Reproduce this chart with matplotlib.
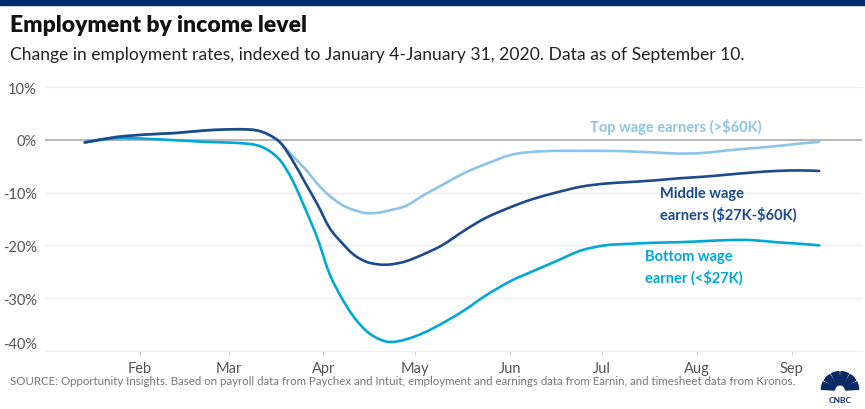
import numpy as np
import pandas as pd
import matplotlib
matplotlib.use("Agg")
import matplotlib.pyplot as plt
import matplotlib.dates as mdates
from matplotlib.patches import Rectangle, Wedge, PathPatch
from matplotlib.path import Path

plt.rcParams['font.family'] = ['Lato', 'DejaVu Sans']

# data (change vs Jan 2020, %)
dates = pd.to_datetime([
    "2020-01-14", "2020-01-24", "2020-02-03", "2020-02-13", "2020-02-23",
    "2020-03-04", "2020-03-10", "2020-03-14", "2020-03-18", "2020-03-22",
    "2020-03-26", "2020-03-30", "2020-04-03", "2020-04-07", "2020-04-11",
    "2020-04-15", "2020-04-19", "2020-04-23", "2020-04-28", "2020-05-04",
    "2020-05-10", "2020-05-17", "2020-05-24", "2020-06-01", "2020-06-08",
    "2020-06-16", "2020-06-24", "2020-07-02", "2020-07-10", "2020-07-18",
    "2020-07-26", "2020-08-03", "2020-08-11", "2020-08-19", "2020-08-27",
    "2020-09-04", "2020-09-10"])

top = [-0.5, 0.5, 1.0, 1.3, 1.8, 2.0, 1.8, 1.0, -0.6, -3.1,
       -5.5, -8.3, -10.6, -12.3, -13.3, -13.9, -13.8, -13.3, -12.5, -10.4,
       -8.5, -6.3, -4.6, -2.9, -2.3, -2.1, -2.1, -2.1, -2.2, -2.4,
       -2.6, -2.5, -2.0, -1.6, -1.2, -0.7, -0.4]

middle = [-0.5, 0.5, 1.0, 1.3, 1.8, 2.0, 1.8, 1.0, -0.6, -4.0,
          -8.1, -12.2, -16.7, -19.5, -21.8, -23.1, -23.6, -23.6, -23.0, -21.6,
          -19.9, -17.2, -14.8, -12.8, -11.3, -10.0, -8.9, -8.3, -8.0, -7.7,
          -7.3, -7.0, -6.6, -6.2, -5.9, -5.8, -5.9]

bottom = [-0.5, 0.3, 0.2, -0.1, -0.4, -0.6, -1.0, -2.0, -4.0, -7.8,
          -13.0, -18.6, -25.4, -30.0, -33.6, -36.2, -37.7, -38.3, -37.8, -36.5,
          -34.7, -32.3, -29.5, -26.8, -25.0, -23.0, -21.0, -20.0, -19.7, -19.5,
          -19.4, -19.2, -19.0, -19.0, -19.4, -19.7, -20.0]

yticks = [10, 0, -10, -20, -30, -40]
month_ticks = pd.to_datetime(["2020-02-01", "2020-03-01", "2020-04-01", "2020-05-01",
                              "2020-06-01", "2020-07-01", "2020-08-01", "2020-09-01"])

c_top = "#8cc4e8"
c_mid = "#1c4a8a"
c_bot = "#00a8d8"
grey = "#555555"


def smooth_line(ax, x, y, color, z):
    # draw the points as a smooth bezier path (catmull-rom style)
    pts = np.column_stack([mdates.date2num(x), y])
    verts = [pts[0]]
    codes = [Path.MOVETO]
    n = len(pts)
    for i in range(n - 1):
        p0 = pts[max(i - 1, 0)]
        p1 = pts[i]
        p2 = pts[i + 1]
        p3 = pts[min(i + 2, n - 1)]
        verts += [p1 + (p2 - p0) / 6, p2 - (p3 - p1) / 6, p2]
        codes += [Path.CURVE4] * 3
    ax.add_patch(PathPatch(Path(verts, codes), fc="none", ec=color, lw=1.9,
                           zorder=z, capstyle="round"))


fig = plt.figure(figsize=(8.65, 4.10), dpi=100)
ax = fig.add_axes([45 / 865, 1 - 352 / 410, 817 / 865, 264 / 410])

for v in yticks:
    if v == 0:
        ax.axhline(0, color="#aaaaaa", lw=1.2, zorder=1)
    elif v != -40:
        ax.axhline(v, color="#eeeeee", lw=1, zorder=0)

smooth_line(ax, dates, top, c_top, 3)
smooth_line(ax, dates, middle, c_mid, 4)
smooth_line(ax, dates, bottom, c_bot, 3)

ax.set_xlim(pd.Timestamp("2020-01-01"), pd.Timestamp("2020-09-24"))
ax.set_ylim(-40, 10)
ax.set_yticks(yticks)
ax.set_yticklabels([f"{v}%" for v in yticks])
ax.set_xticks(month_ticks)
ax.xaxis.set_major_formatter(mdates.DateFormatter("%b"))

for s in ["top", "right", "left"]:
    ax.spines[s].set_visible(False)
ax.spines["bottom"].set_color("#eeeeee")
ax.tick_params(axis="y", length=0, pad=6, labelsize=10.5, labelcolor=grey)
ax.tick_params(axis="x", length=3, color="#cccccc", pad=4, labelsize=10.5, labelcolor=grey)
ax.get_yticklabels()[-1].set_va("bottom")

# series labels
fig.text(590 / 865, 1 - 127 / 410, r"Top wage earners (>\$60K)", color=c_top,
         fontsize=10.5, fontweight="bold", va="center")
fig.text(660 / 865, 1 - 205 / 410, "Middle wage\n" + r"earners (\$27K-\$60K)", color=c_mid,
         fontsize=10.5, fontweight="bold", va="center", linespacing=1.45)
fig.text(645 / 865, 1 - 268 / 410, "Bottom wage\n" + r"earner (<\$27K)", color=c_bot,
         fontsize=10.5, fontweight="bold", va="center", linespacing=1.45)

# header
fig.patches.append(Rectangle((0, 1 - 6 / 410), 1, 6 / 410, transform=fig.transFigure,
                             color="#002d6b", zorder=0))
fig.text(10 / 865, 1 - 25 / 410, "Employment by income level", fontsize=16.5,
         fontweight="heavy", color="#111111", va="center")
fig.text(10 / 865, 1 - 55 / 410,
         "Change in employment rates, indexed to January 4-January 31, 2020. Data as of September 10.",
         fontsize=12.6, color="#222222", va="center")
fig.text(10 / 865, 1 - 382 / 410,
         "SOURCE: Opportunity Insights. Based on payroll data from Paychex and Intuit, employment and "
         "earnings data from Earnin, and timesheet data from Kronos.",
         fontsize=8.3, color="#777777", va="center")

# CNBC peacock
lax = fig.add_axes([818 / 865, 2 / 410, 44 / 865, 40 / 410])
lax.set_xlim(-1, 1)
lax.set_ylim(-0.55, 1.05)
lax.set_aspect("equal")
lax.axis("off")
for i in range(6):
    a0 = 180 - i * 30
    lax.add_patch(Wedge((0, 0.1), 0.85, a0 - 27, a0 - 3, width=0.6, color="#0a2a66"))
lax.text(0, -0.32, "CNBC", ha="center", va="center", fontsize=6, fontweight="bold",
         color="#0a2a66")

fig.savefig("out.png", dpi=100)
